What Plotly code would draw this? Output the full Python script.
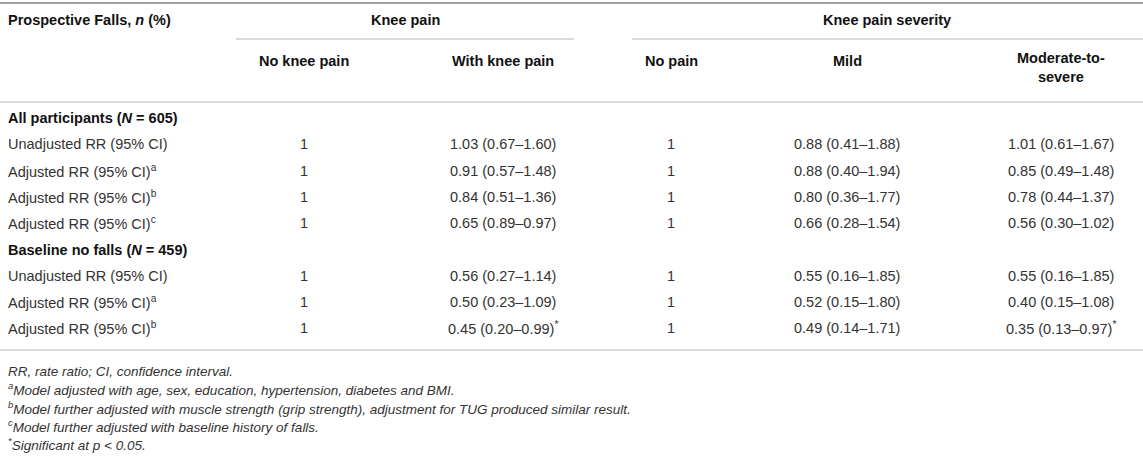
import plotly.graph_objects as go

# table text
title_cell = "Prospective Falls, <i>n</i> (%)"
group_headers = ["Knee pain", "Knee pain severity"]
sub_headers = ["No knee pain", "With knee pain", "No pain", "Mild", "Moderate-to-<br>severe"]

row_labels = [
    "<b>All participants (<i>N</i> = 605)</b>",
    "Unadjusted RR (95% CI)",
    "Adjusted RR (95% CI)<sup>a</sup>",
    "Adjusted RR (95% CI)<sup>b</sup>",
    "Adjusted RR (95% CI)<sup>c</sup>",
    "<b>Baseline no falls (<i>N</i> = 459)</b>",
    "Unadjusted RR (95% CI)",
    "Adjusted RR (95% CI)<sup>a</sup>",
    "Adjusted RR (95% CI)<sup>b</sup>",
]
no_knee_pain = ["", "1", "1", "1", "1", "", "1", "1", "1"]
with_knee_pain = ["", "1.03 (0.67–1.60)", "0.91 (0.57–1.48)", "0.84 (0.51–1.36)", "0.65 (0.89–0.97)",
                  "", "0.56 (0.27–1.14)", "0.50 (0.23–1.09)", "0.45 (0.20–0.99)<sup>*</sup>"]
no_pain = ["", "1", "1", "1", "1", "", "1", "1", "1"]
mild = ["", "0.88 (0.41–1.88)", "0.88 (0.40–1.94)", "0.80 (0.36–1.77)", "0.66 (0.28–1.54)",
        "", "0.55 (0.16–1.85)", "0.52 (0.15–1.80)", "0.49 (0.14–1.71)"]
moderate_severe = ["", "1.01 (0.61–1.67)", "0.85 (0.49–1.48)", "0.78 (0.44–1.37)", "0.56 (0.30–1.02)",
                   "", "0.55 (0.16–1.85)", "0.40 (0.15–1.08)", "0.35 (0.13–0.97)<sup>*</sup>"]

footnotes = [
    "RR, rate ratio; CI, confidence interval.",
    "<sup>a</sup>Model adjusted with age, sex, education, hypertension, diabetes and BMI.",
    "<sup>b</sup>Model further adjusted with muscle strength (grip strength), adjustment for TUG produced similar result.",
    "<sup>c</sup>Model further adjusted with baseline history of falls.",
    "<sup>*</sup>Significant at <i>p</i> &lt; 0.05.",
]

# layout (pixels)
W, H = 1143, 465
FONT = "Liberation Sans, Arial, sans-serif"
TXT = "#333333"
BOLD = "#111111"
RULE = "#b8b8b8"
col_x = [304, 503, 671, 847, 1061]
label_x = 6
row_y0, row_h = 118, 26.3
foot_y0, foot_h = 371, 18.3

fig = go.Figure()
ann = []


def cell(x, y, text, size=14.5, color=TXT, anchor="center"):
    ann.append(dict(x=x, y=y, xref="x", yref="y", text=text, showarrow=False,
                    xanchor=anchor, yanchor="middle", align=anchor,
                    font=dict(family=FONT, size=size, color=color)))


# header
cell(label_x, 20, "<b>" + title_cell + "</b>", color=BOLD, anchor="left")
cell(405, 20, "<b>" + group_headers[0] + "</b>", color=BOLD)
cell(887, 20, "<b>" + group_headers[1] + "</b>", color=BOLD)
for x, h in zip(col_x, sub_headers):
    y = 67 if "<br>" in h else 61
    cell(x, y, "<b>" + h + "</b>", color=BOLD)

# body
columns = [no_knee_pain, with_knee_pain, no_pain, mild, moderate_severe]
for i, lab in enumerate(row_labels):
    y = row_y0 + i * row_h
    cell(label_x, y, lab, color=BOLD if lab.startswith("<b>") else TXT, anchor="left")
    for x, col in zip(col_x, columns):
        if col[i]:
            cell(x, y, col[i])

# footnotes
for j, f in enumerate(footnotes):
    cell(label_x, foot_y0 + j * foot_h, "<i>" + f + "</i>", size=13.5, anchor="left")

# rules
rules = [
    (0, W, 3, "#a0a0a0", 2),
    (236, 574, 39, RULE, 1),
    (632, W, 39, RULE, 1),
    (0, W, 102, RULE, 1),
    (0, W, 350, RULE, 1),
]
for x0, x1, y, c, w in rules:
    fig.add_shape(type="line", x0=x0, x1=x1, y0=y, y1=y, xref="x", yref="y",
                  line=dict(color=c, width=w))

fig.update_layout(
    width=W, height=H,
    margin=dict(l=0, r=0, t=0, b=0),
    paper_bgcolor="white", plot_bgcolor="white",
    xaxis=dict(range=[0, W], visible=False, fixedrange=True),
    yaxis=dict(range=[H, 0], visible=False, fixedrange=True),
    annotations=ann,
    showlegend=False,
)

# page body has a default 8px margin; drop it so the table sits at the window edge
fig.write_html("out.html", config={"displayModeBar": False},
               post_script="document.body.style.margin = '0';")
